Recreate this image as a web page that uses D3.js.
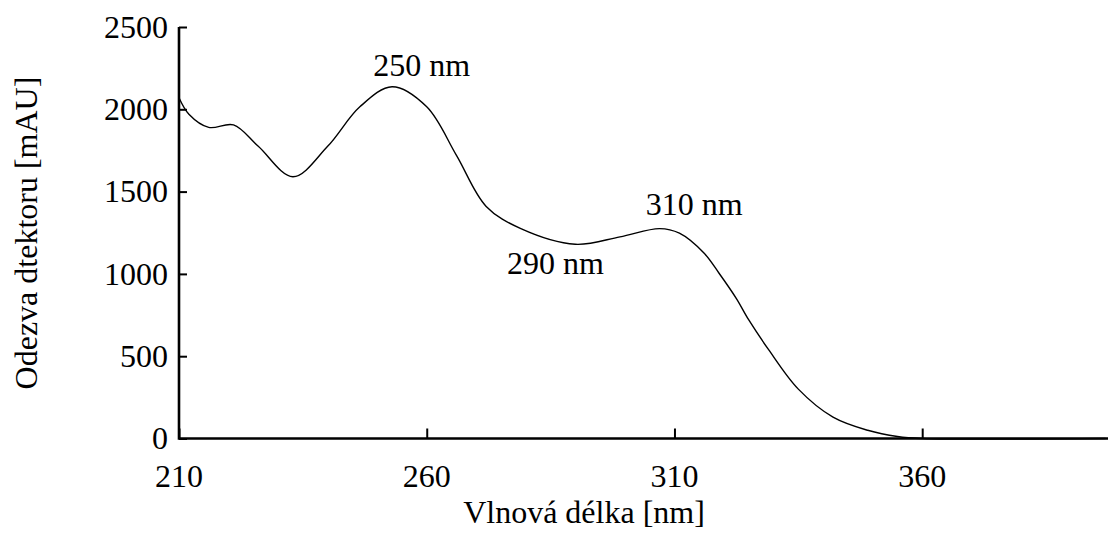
<!DOCTYPE html>
<html>
<head>
<meta charset="utf-8">
<script src="https://cdn.jsdelivr.net/npm/d3@7"></script>
<style>
  body { margin: 0; background: #fff; }
  text { font-family: "Liberation Serif", "Times New Roman", serif; fill: #000; }
</style>
</head>
<body>
<svg id="chart" width="1110" height="534"></svg>
<script>
// spectrum
var wavelength = [210, 212, 216, 221, 226, 233, 240, 246.5, 253, 260, 266, 272, 279, 290, 299, 307, 311, 316, 319, 322.5, 325, 329, 335, 342, 349, 355, 360, 397];
var response   = [2070, 1970, 1890, 1905, 1775, 1590, 1775, 2015, 2137, 2015, 1720, 1410, 1275, 1180, 1225, 1275, 1247, 1125, 1004, 850, 720, 540, 300, 130, 50, 12, 0, 0];

var xTicks = [210, 260, 310, 360];
var yTicks = [0, 500, 1000, 1500, 2000, 2500];

// peak labels
var peakLabels = ["250 nm", "290 nm", "310 nm"];
var peakX = [259, 286, 314];
var peakY = [2200, 1000, 1355];

var svg = d3.select("#chart");
var plotLeft = 179, plotRight = 1108, plotTop = 27, plotBottom = 438.5;

var x = d3.scaleLinear().domain([210, 397.5]).range([plotLeft, plotRight]);
var y = d3.scaleLinear().domain([0, 2500]).range([plotBottom, plotTop]);

var fontSize = 32;

// curve
var line = d3.line()
    .x(function(d, i) { return x(wavelength[i]); })
    .y(function(d, i) { return Math.min(y(response[i]), plotBottom); })
    .curve(d3.curveCatmullRom.alpha(0.5));

svg.append("path")
    .datum(response)
    .attr("d", line)
    .style("fill", "none")
    .style("stroke", "#000")
    .style("stroke-width", 1.4);

// axes: ticks point inward
var yAxis = svg.append("g")
    .attr("transform", "translate(" + plotLeft + ",0)")
    .call(d3.axisRight(y).tickValues(yTicks).tickSize(8).tickFormat(""));
yAxis.select(".domain").remove();
yAxis.selectAll("line").style("stroke", "#000").style("stroke-width", 2);

var xAxis = svg.append("g")
    .attr("transform", "translate(0," + plotBottom + ")")
    .call(d3.axisTop(x).tickValues(xTicks).tickSize(10).tickFormat(""));
xAxis.select(".domain").remove();
xAxis.selectAll("line").style("stroke", "#000").style("stroke-width", 2);

// axis lines
svg.append("path")
    .attr("d", "M" + plotLeft + "," + plotTop + "V" + plotBottom + "H" + plotRight)
    .style("fill", "none")
    .style("stroke", "#000")
    .style("stroke-width", 2.6);

// tick labels
svg.selectAll(".ylab")
    .data(yTicks)
    .enter()
    .append("text")
    .attr("class", "ylab")
    .attr("x", 168)
    .attr("y", function(d) { return y(d); })
    .attr("dy", "0.34em")
    .attr("text-anchor", "end")
    .attr("font-size", fontSize)
    .text(function(d) { return d; });

svg.selectAll(".xlab")
    .data(xTicks)
    .enter()
    .append("text")
    .attr("class", "xlab")
    .attr("x", function(d) { return x(d); })
    .attr("y", 487)
    .attr("text-anchor", "middle")
    .attr("font-size", fontSize)
    .text(function(d) { return d; });

// axis titles
svg.append("text")
    .attr("x", 584)
    .attr("y", 523)
    .attr("text-anchor", "middle")
    .attr("font-size", fontSize)
    .text("Vlnová délka [nm]");

svg.append("text")
    .attr("transform", "translate(37,233) rotate(-90)")
    .attr("text-anchor", "middle")
    .attr("font-size", fontSize)
    .text("Odezva dtektoru [mAU]");

// peak annotations
svg.selectAll(".peak")
    .data(peakLabels)
    .enter()
    .append("text")
    .attr("class", "peak")
    .attr("x", function(d, i) { return x(peakX[i]); })
    .attr("y", function(d, i) { return y(peakY[i]); })
    .attr("text-anchor", "middle")
    .attr("font-size", fontSize)
    .text(function(d) { return d; });
</script>
</body>
</html>
